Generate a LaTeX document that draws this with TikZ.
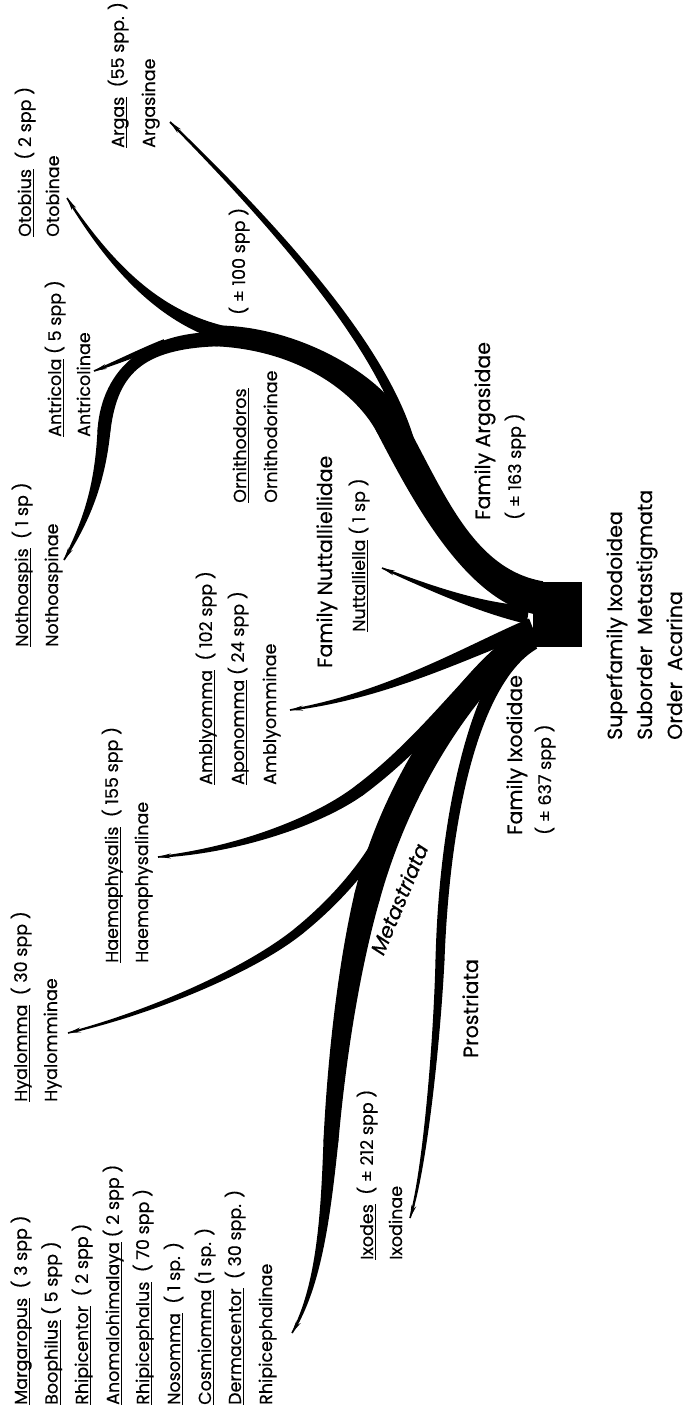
\documentclass[tikz,border=0pt]{standalone}
\usepackage{fontspec}
\setmainfont{Poppins}[FakeBold=0.35]
\usetikzlibrary{calc,arrows.meta}
% tapered branch along a cubic centre line: P0 P1 P2 P3, half widths h0 h1 h2 h3
\newcommand\tbranch[8]{%
  \path (#1) coordinate (q0) (#2) coordinate (q1) (#3) coordinate (q2) (#4) coordinate (q3);
  \fill ($(q0)!#5!90:(q1)$) .. controls ($(q1)!#6!-90:(q0)$) and ($(q2)!#7!90:(q3)$) .. ($(q3)!#8!-90:(q2)$)
     -- ($(q3)!#8!90:(q2)$) .. controls ($(q2)!#7!-90:(q3)$) and ($(q1)!#6!90:(q0)$) .. ($(q0)!#5!-90:(q1)$) -- cycle;}
\newcommand\tarrow[2]{%
  \path (#1) coordinate (r0) (#2) coordinate (r1);
  \draw[line width=1pt,-{Stealth[length=13pt,width=5pt]}] ($(r1)!14pt!(r0)$) -- (r1);}
\newcommand\joint[2]{\fill (#1) circle[radius=#2];}
\newcommand\gen[1]{\setbox0\hbox{#1}\rlap{\rule[-3pt]{\wd0}{0.9pt}}\box0\relax}
\begin{document}
\begin{tikzpicture}[x=1pt,y=-1pt,
  lab/.style={rotate=90,anchor=base west,inner sep=0pt,font=\fontsize{17.5}{20}\selectfont},
  biglab/.style={rotate=90,anchor=base west,inner sep=0pt,font=\fontsize{20.5}{24}\selectfont}]
\useasboundingbox (0,0) rectangle (687,1421);
% ---------- branches ----------
% base
\fill (533,582) rectangle (582,647);
% Family Argasidae trunk
\tbranch{540,598}{470,585}{430,500}{390,425}{17pt}{16pt}{16pt}{15pt}
\joint{390,425}{15pt}
\tbranch{390,425}{368,382}{290,332}{200,336}{15pt}{16pt}{13pt}{10pt}
% Argas
\tbranch{410,445}{390,370}{320,270}{170,122}{5.5pt}{5pt}{4pt}{1pt}
\tarrow{320,270}{170,122}
% Otobius
\tbranch{228,335}{160,318}{112,268}{67,198}{8pt}{5.5pt}{3pt}{0.8pt}
\tarrow{112,268}{67,198}
% Nothoaspis
\tbranch{228,339}{145,338}{110,370}{104,430}{7pt}{9pt}{8pt}{6.5pt}
\joint{104,430}{6.5pt}
\tbranch{104,430}{100,485}{86,522}{64,560}{6.5pt}{5pt}{3pt}{0.8pt}
\tarrow{86,522}{64,560}
% Antricola
\tbranch{165,343}{142,351}{118,362}{94,371}{4pt}{3pt}{2pt}{0.8pt}
\tarrow{118,362}{94,371}
% Nuttalliella
\tbranch{528,615}{480,608}{430,588}{382,568}{9pt}{5pt}{2.5pt}{0.8pt}
\tarrow{430,588}{382,568}
% Amblyomma
\tbranch{532,626}{470,650}{390,695}{290,710}{8pt}{6pt}{3.5pt}{0.8pt}
\tarrow{390,695}{290,710}
% Metastriata trunk -> Rhipicephalinae
\tbranch{535,632}{480,665}{400,770}{367,897}{10pt}{15pt}{15pt}{13pt}
\joint{367,897}{13pt}
\tbranch{367,897}{352,955}{338,1040}{331,1140}{13pt}{11.5pt}{9.5pt}{7.5pt}
\joint{331,1140}{7.5pt}
\tbranch{331,1140}{326,1210}{320,1285}{292,1333}{7.5pt}{5pt}{3pt}{0.8pt}
\tarrow{320,1285}{292,1333}
% Haemaphysalis
\tbranch{500,655}{460,690}{420,745}{360,790}{8pt}{7pt}{6.5pt}{6pt}
\joint{360,790}{6pt}
\tbranch{360,790}{320,820}{240,850}{158,857}{6pt}{5pt}{3.5pt}{0.8pt}
\tarrow{240,850}{158,857}
% Hyalomma
\tbranch{405,790}{388,835}{355,885}{300,930}{7pt}{6pt}{5pt}{4.5pt}
\joint{300,930}{4.5pt}
\tbranch{300,930}{255,967}{160,1010}{68,1033}{4.5pt}{4pt}{2.5pt}{0.8pt}
\tarrow{160,1010}{68,1033}
% Prostriata -> Ixodinae
\tbranch{532,640}{480,672}{445,800}{440,960}{10pt}{8pt}{5.5pt}{4.5pt}
\joint{440,960}{4.5pt}
\tbranch{440,960}{437,1040}{425,1170}{410,1218}{4.5pt}{3.5pt}{2pt}{0.8pt}
\tarrow{425,1170}{410,1218}
% ---------- labels ----------
\node[lab] (argas) at (124,148) {\gen{Argas} \ (55 spp. )};
\node[lab] (argasinae) at (155,148) {Argasinae};
\node[lab] (otobius) at (31,237) {\gen{Otobius} \ ( 2 spp )};
\node[lab] (otobinae) at (59,237) {Otobinae};
\node[lab] (orn100) at (245,315) {( ± 100 spp )};
\node[lab] (antricola) at (61,437) {\gen{Antricola} ( 5 spp )};
\node[lab] (antricolinae) at (90,437) {Antricolinae};
\node[lab] (nothoaspis) at (28,647) {\gen{Nothoaspis} \ ( 1 sp )};
\node[lab] (nothoaspinae) at (58,647) {Nothoaspinae};
\node[lab] (ornithodoros) at (246,503) {\gen{Ornithodoros}};
\node[lab] (ornithodorinae) at (277,503) {Ornithodorinae};
\node[biglab] (famnut) at (332,668) {Family Nuttalliellidae};
\node[lab] (nuttalliella) at (365,632) {\gen{Nuttalliella} ( 1 sp )};
\node[biglab] (famarg) at (490,520) {Family Argasidae};
\node[lab] (arg163) at (521,520) {( ± 163 spp )};
\node[biglab] (superfam) at (622,740) {Superfamily Ixodoidea};
\node[biglab] (suborder) at (652,740) {Suborder \ Metastigmata};
\node[biglab] (order) at (682,740) {Order \ Acarina};
\node[biglab] (famixo) at (522,835) {Family Ixodidae};
\node[lab] (ixo637) at (551,835) {( ± 637 spp )};
\node[lab] (amblyomma) at (212,785) {\gen{Amblyomma} \ ( 102 spp )};
\node[lab] (aponomma) at (244,785) {\gen{Aponomma} ( 24 spp )};
\node[lab] (amblyomminae) at (276,785) {Amblyomminae};
\node[lab] (haema) at (118,963) {\gen{Haemaphysalis} \ ( 155 spp )};
\node[lab] (haemainae) at (148,963) {Haemaphysalinae};
\node[lab] (hyalomma) at (27,1102) {\gen{Hyalomma} \ ( 30 spp )};
\node[lab] (hyalomminae) at (57,1102) {Hyalomminae};
\node[lab] (margaropus) at (27,1405) {\gen{Margaropus} \ ( 3 spp )};
\node[lab] (boophilus) at (57.6,1405) {\gen{Boophilus} ( 5 spp )};
\node[lab] (rhipicentor) at (88,1405) {\gen{Rhipicentor} \ ( 2 spp )};
\node[lab] (anomalo) at (119,1405) {\gen{Anomalohimalaya} ( 2 spp )};
\node[lab] (rhipicephalus) at (149,1405) {\gen{Rhipicephalus} \ ( 70 spp )};
\node[lab] (nosomma) at (180,1405) {\gen{Nosomma} \ ( 1 sp. )};
\node[lab] (cosmiomma) at (211,1405) {\gen{Cosmiomma} (1 sp. )};
\node[lab] (dermacentor) at (241,1405) {\gen{Dermacentor} \ ( 30 spp. )};
\node[lab] (rhipicephalinae) at (272,1405) {Rhipicephalinae};
\node[lab] (ixodes) at (373,1260) {\gen{Ixodes} \ ( ± 212 spp )};
\node[lab] (ixodinae) at (402,1260) {Ixodinae};
\node[biglab] (prost) at (478,1058) {Prostriata};
\node[rotate=67.4,inner sep=0pt,font=\fontsize{20.5}{24}\selectfont\itshape] (metast) at (399,899) {Metastriata};
\end{tikzpicture}
\end{document}
